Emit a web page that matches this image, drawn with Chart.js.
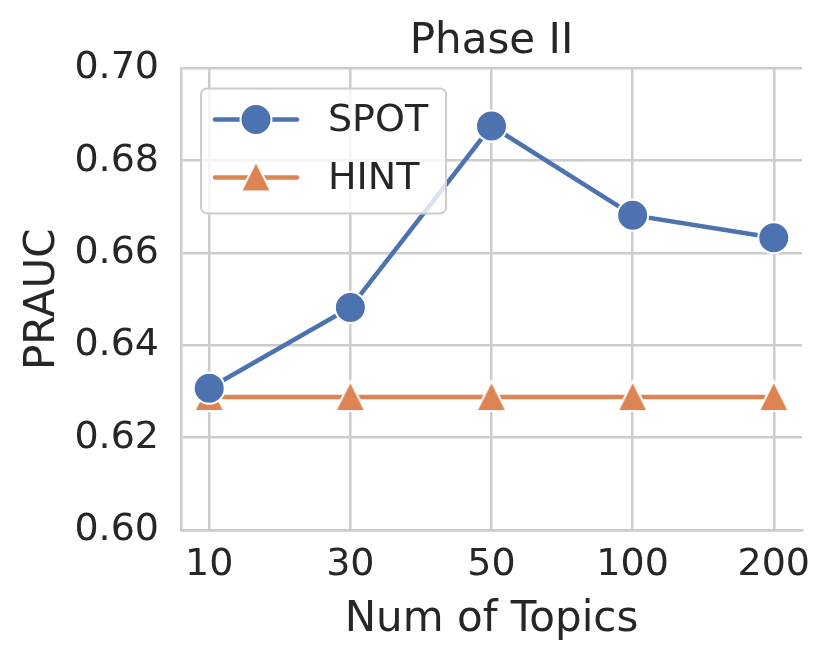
<!DOCTYPE html>
<html lang="en">
<head>
    <script src="https://cdn.jsdelivr.net/npm/chart.js@4.4.1/dist/chart.umd.min.js"></script>
    <style>
        body { margin: 0; background: #fff; }
    </style>
</head>

<body>

<canvas id="myChart" width="831" height="662"></canvas>
<script>
    // values
    const topics = ['10', '30', '50', '100', '200'];
    const spotValues = [0.6307, 0.6482, 0.6875, 0.6682, 0.6633];
    const hintValues = [0.6288, 0.6288, 0.6288, 0.6288, 0.6288];
    const yTicks = [0.60, 0.62, 0.64, 0.66, 0.68, 0.70];

    const FONT = "'DejaVu Sans', 'Liberation Sans', sans-serif";
    const TEXT = '#262626';
    const GRID = '#cccccc';
    const BLUE = '#4c72b0';
    const ORANGE = '#dd8452';

    const toPoints = vals => vals.map((v, i) => ({ x: i, y: v }));

    // matplotlib-style '^' marker (as wide as it is tall)
    const tri = document.createElement('canvas');
    tri.width = 36;
    tri.height = 36;
    (function () {
        const c = tri.getContext('2d');
        c.beginPath();
        c.moveTo(18, 2);
        c.lineTo(33, 32);
        c.lineTo(3, 32);
        c.closePath();
        c.fillStyle = ORANGE;
        c.fill();
        c.strokeStyle = '#fff';
        c.lineWidth = 2;
        c.lineJoin = 'miter';
        c.stroke();
    })();

    // legend box drawn inside the plot, like matplotlib's
    const innerLegend = {
        id: 'innerLegend',
        afterDatasetsDraw(chart) {
            const ctx = chart.ctx;
            const area = chart.chartArea;
            const x0 = area.left + 20, y0 = area.top + 20, w = 245, h = 125;
            ctx.save();
            ctx.beginPath();
            ctx.roundRect(x0, y0, w, h, 6);
            ctx.fillStyle = 'rgba(255,255,255,0.8)';
            ctx.fill();
            ctx.strokeStyle = GRID;
            ctx.lineWidth = 2;
            ctx.stroke();

            chart.data.datasets.forEach((ds, i) => {
                const y = y0 + 31 + i * 58;
                ctx.beginPath();
                ctx.moveTo(x0 + 14, y);
                ctx.lineTo(x0 + 96, y);
                ctx.strokeStyle = ds.borderColor;
                ctx.lineWidth = ds.borderWidth;
                ctx.lineCap = 'round';
                ctx.stroke();

                ctx.fillStyle = ds.pointBackgroundColor;
                ctx.strokeStyle = ds.pointBorderColor;
                ctx.lineWidth = ds.pointBorderWidth;
                Chart.helpers.drawPoint(ctx, {
                    pointStyle: ds.pointStyle,
                    radius: ds.pointRadius,
                    borderWidth: ds.pointBorderWidth,
                    rotation: 0
                }, x0 + 55, y);

                ctx.fillStyle = TEXT;
                ctx.font = '38px ' + FONT;
                ctx.textAlign = 'left';
                ctx.textBaseline = 'middle';
                ctx.fillText(ds.label, x0 + 127, y + 2);
            });
            ctx.restore();
        }
    };

    const config = {
        type: 'line',
        data: {
            datasets: [
                {
                    label: 'SPOT',
                    data: toPoints(spotValues),
                    borderColor: BLUE,
                    backgroundColor: BLUE,
                    pointBackgroundColor: BLUE,
                    pointBorderColor: '#fff',
                    borderWidth: 4.5,
                    pointStyle: 'circle',
                    pointRadius: 15.5,
                    pointBorderWidth: 2
                },
                {
                    label: 'HINT',
                    data: toPoints(hintValues),
                    borderColor: ORANGE,
                    backgroundColor: ORANGE,
                    pointBackgroundColor: ORANGE,
                    pointBorderColor: '#fff',
                    borderWidth: 4.5,
                    pointStyle: tri,
                    pointRadius: 18,
                    pointBorderWidth: 2
                }
            ]
        },
        options: {
            responsive: false,
            animation: false,
            devicePixelRatio: 1,
            layout: { padding: { left: 0, right: 29, top: 0, bottom: 0 } },
            plugins: {
                legend: { display: false },
                tooltip: { enabled: false },
                title: {
                    display: true,
                    fullSize: false,
                    text: 'Phase II',
                    color: TEXT,
                    font: { family: FONT, size: 42, weight: 'normal' },
                    padding: { top: 17, bottom: 1 }
                }
            },
            scales: {
                x: {
                    type: 'linear',
                    min: -0.2,
                    max: 4.2,
                    afterBuildTicks: scale => {
                        scale.ticks = topics.map((t, i) => ({ value: i }));
                    },
                    afterFit: scale => { scale.height = 132; },
                    ticks: {
                        color: TEXT,
                        font: { family: FONT, size: 38 },
                        padding: 12,
                        maxRotation: 0,
                        callback: v => topics[v]
                    },
                    grid: { color: GRID, lineWidth: 2.5, drawTicks: false },
                    border: { color: GRID, width: 2.5 },
                    title: {
                        display: true,
                        text: 'Num of Topics',
                        color: TEXT,
                        font: { family: FONT, size: 42 },
                        padding: { top: 0, bottom: 17 }
                    }
                },
                y: {
                    min: 0.6,
                    max: 0.7,
                    afterBuildTicks: scale => {
                        scale.ticks = yTicks.map(v => ({ value: v }));
                    },
                    afterFit: scale => { scale.width = 181; },
                    ticks: {
                        color: TEXT,
                        font: { family: FONT, size: 38 },
                        padding: 22,
                        callback: v => v.toFixed(2)
                    },
                    grid: { color: GRID, lineWidth: 2.5, drawTicks: false },
                    border: { color: GRID, width: 2.5 },
                    title: {
                        display: true,
                        text: 'PRAUC',
                        color: TEXT,
                        font: { family: FONT, size: 42 },
                        padding: { top: 18, bottom: 0 }
                    }
                }
            }
        },
        plugins: [innerLegend]
    };

    const myChart = new Chart(
        document.getElementById('myChart'),
        config
    );
</script>
</body>
</html>
